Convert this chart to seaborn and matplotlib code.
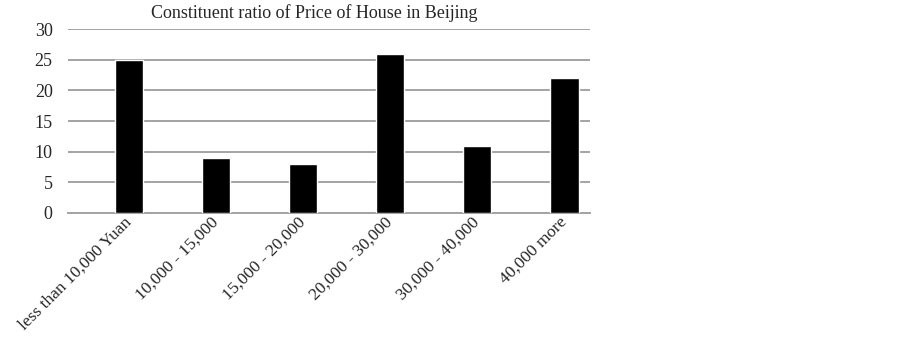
import matplotlib
matplotlib.use("Agg")
import matplotlib.pyplot as plt
import seaborn as sns
import pandas as pd

# Data
CATEGORIES = ['less than 10,000 Yuan', '10,000 - 15,000', '15,000 - 20,000',
              '20,000 - 30,000', '30,000 - 40,000', '40,000 more']
VALUES = [25, 9, 8, 26, 11, 22]
Y_TICKS = [0, 5, 10, 15, 20, 25, 30]
TITLE = "Constituent ratio of Price of House in Beijing"

sns.set_style("white")
plt.rcParams['font.family'] = ['Liberation Serif', 'DejaVu Serif']

df = pd.DataFrame({'Price': CATEGORIES, 'Ratio': VALUES})

fig = plt.figure(figsize=(9.02, 3.38), dpi=100)
ax = fig.add_axes([0.0754, 0.370, 0.579, 0.544])

sns.barplot(data=df, x='Price', y='Ratio', color='black', width=0.33,
            saturation=1, ax=ax, zorder=3)

ax.set_ylim(0, 30)
ax.set_yticks(Y_TICKS)
# bars sit off-centre in the original (Excel export), so shift the limits
ax.set_xlim(-0.70, len(CATEGORIES) - 0.70)
ax.yaxis.grid(True, color='#a3a3a3', linewidth=1.4, zorder=0)
ax.set_axisbelow(True)
for side in ['top', 'right', 'left']:
    ax.spines[side].set_visible(False)
ax.spines['bottom'].set_color('#a3a3a3')
ax.spines['bottom'].set_linewidth(1.4)
ax.tick_params(axis='y', length=0, labelsize=13, pad=11)
ax.tick_params(axis='x', length=0, labelsize=12.5, pad=5)
ax.set_xticks(range(len(CATEGORIES)))
ax.set_xticklabels(CATEGORIES, rotation=45, ha='right', va='center',
                   rotation_mode='anchor')
ax.set_xlabel('')
ax.set_ylabel('')
ax.set_title(TITLE, fontsize=13, pad=8, x=0.471)

fig.savefig("out.png", dpi=100)
